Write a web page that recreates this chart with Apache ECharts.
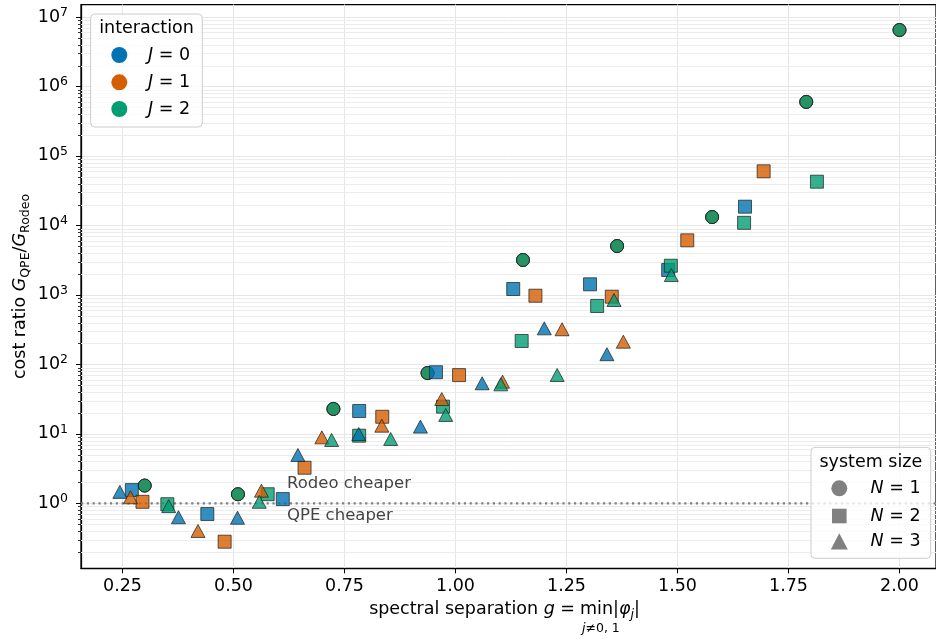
<!DOCTYPE html>
<html>
<head>
<meta charset="utf-8">
<script src="https://cdn.jsdelivr.net/npm/echarts@6/dist/echarts.min.js"></script>
<style>
  html, body { margin: 0; padding: 0; background: #ffffff; }
  #chart { width: 936px; height: 639px; }
</style>
</head>
<body>
<div id="chart"></div>
<script>
// ---- axis ticks ----
const xTickValues = [0.25, 0.5, 0.75, 1.0, 1.25, 1.5, 1.75, 2.0];
const yTickExponents = [0, 1, 2, 3, 4, 5, 6, 7];
const xRange = [0.1565, 2.0822];
const yRangeLog = [-0.9357, 7.180];

// ---- N = 1 (single site): identical for every interaction J ----
const sepN1   = [0.30, 0.51, 0.725, 0.937, 1.152, 1.364, 1.578, 1.79, 2.0];
const ratioN1 = [1.8, 1.35, 22.8, 75, 3180, 5050, 13200, 600000, 6.5e6];

// ---- N = 2 ----
const sepN2J0   = [0.271, 0.441, 0.611, 0.783, 0.956, 1.130, 1.303, 1.479, 1.652];
const ratioN2J0 = [1.55, 0.70, 1.15, 21.3, 77, 1215, 1420, 2280, 18600];
const sepN2J1   = [0.295, 0.480, 0.660, 0.835, 1.008, 1.180, 1.352, 1.522, 1.694];
const ratioN2J1 = [1.05, 0.28, 3.25, 17.6, 70, 973, 942, 6100, 60100];
const sepN2J2   = [0.351, 0.577, 0.783, 0.972, 1.149, 1.319, 1.485, 1.650, 1.814];
const ratioN2J2 = [0.97, 1.35, 9.4, 24.6, 217, 692, 2630, 10900, 42600];

// ---- N = 3 ----
const sepN3J0   = [0.244, 0.376, 0.509, 0.645, 0.782, 0.921, 1.060, 1.200, 1.341];
const ratioN3J0 = [1.46, 0.63, 0.62, 4.96, 9.95, 12.7, 53.4, 330, 140];
const sepN3J1   = [0.268, 0.420, 0.563, 0.699, 0.834, 0.969, 1.106, 1.240, 1.378];
const ratioN3J1 = [1.22, 0.40, 1.52, 8.9, 13.1, 31.7, 56.3, 320, 212];
const sepN3J2   = [0.354, 0.558, 0.721, 0.854, 0.978, 1.102, 1.229, 1.357, 1.486];
const ratioN3J2 = [0.91, 1.05, 8.15, 8.43, 18.7, 51.6, 70.3, 844, 1930];

const jLabels = ['0', '1', '2'];
const nLabels = ['1', '2', '3'];

// ---- styling ----
const FONT = 'DejaVu Sans';
const jColors = ['#0173b2', '#d55e00', '#029e73'];
const nSymbols = ['circle', 'rect', 'triangle'];
const nSizes = [13, 13, [14, 13]];

const groups = [
  [[sepN1, ratioN1], [sepN1, ratioN1], [sepN1, ratioN1]],
  [[sepN2J0, ratioN2J0], [sepN2J1, ratioN2J1], [sepN2J2, ratioN2J2]],
  [[sepN3J0, ratioN3J0], [sepN3J1, ratioN3J1], [sepN3J2, ratioN3J2]]
];

const series = [];

// minor log gridlines and minor ticks (2..9 x 10^k)
const minorLog = [];
for (let e = -1; e <= 7; e++) {
  for (let k = 2; k <= 9; k++) {
    const v = Math.log10(k) + e;
    if (v > yRangeLog[0] && v < yRangeLog[1]) minorLog.push([xRange[0], v]);
  }
}
series.push({
  type: 'custom',
  silent: true,
  clip: false,
  z: 1,
  data: minorLog,
  renderItem(params, api) {
    const cs = params.coordSys;
    const y = Math.round(api.coord([api.value(0), api.value(1)])[1]) + 0.5;
    return {
      type: 'group',
      children: [
        { type: 'line', shape: { x1: cs.x, y1: y, x2: cs.x + cs.width, y2: y },
          style: { stroke: '#ececec', lineWidth: 1 } },
        { type: 'line', shape: { x1: cs.x - 3, y1: y, x2: cs.x, y2: y },
          style: { stroke: '#000000', lineWidth: 0.8 } }
      ]
    };
  }
});

// break-even line at ratio = 1
series.push({
  type: 'line',
  silent: true,
  symbol: 'none',
  z: 1,
  data: [[xRange[0], Math.log10(1)], [xRange[1], Math.log10(1)]],
  lineStyle: { color: '#7f7f7f', width: 2.2, type: [2.2, 3.6] }
});

groups.forEach((byJ, n) => {
  byJ.forEach(([sep, ratio], j) => {
    series.push({
      type: 'scatter',
      name: 'N=' + nLabels[n] + ' J=' + jLabels[j],
      symbol: nSymbols[n],
      symbolSize: nSizes[n],
      z: 3,
      data: sep.map((x, i) => [x, Math.log10(ratio[i])]),
      itemStyle: {
        color: jColors[j],
        opacity: 0.8,
        borderColor: '#1e1e1e',
        borderWidth: 0.9
      },
      emphasis: { disabled: true }
    });
  });
});

const chart = echarts.init(document.getElementById('chart'), null, { renderer: 'canvas' });

const textBase = { fontFamily: FONT, fill: '#000000' };

// legend boxes
const legendJ = { x: 90.7, y: 14, w: 111.6, h: 113 };
const legendN = { x: 811, y: 447.3, w: 119.7, h: 111 };

const graphics = [];
graphics.push({
  type: 'rect', z: 100,
  shape: { x: legendJ.x, y: legendJ.y, width: legendJ.w, height: legendJ.h, r: 4 },
  style: { fill: 'rgba(255,255,255,0.8)', stroke: '#cccccc', lineWidth: 1 }
});
graphics.push({
  type: 'text', z: 101, x: legendJ.x + legendJ.w / 2, y: 28.5,
  style: Object.assign({}, textBase, { text: 'interaction', fontSize: 17.5, align: 'center', verticalAlign: 'middle' })
});
const rowJ = [55, 82.3, 109];
jLabels.forEach((lab, j) => {
  graphics.push({
    type: 'circle', z: 101,
    shape: { cx: 119.3, cy: rowJ[j], r: 8 },
    style: { fill: jColors[j] }
  });
  graphics.push({
    type: 'text', z: 101, x: 148, y: rowJ[j],
    style: Object.assign({}, textBase, {
      text: '{i|J} = ' + lab, fontSize: 17.5, align: 'left', verticalAlign: 'middle',
      rich: { i: { fontStyle: 'italic', fontSize: 17.5, fontFamily: FONT } }
    })
  });
});

graphics.push({
  type: 'rect', z: 100,
  shape: { x: legendN.x, y: legendN.y, width: legendN.w, height: legendN.h, r: 4 },
  style: { fill: 'rgba(255,255,255,0.8)', stroke: '#cccccc', lineWidth: 1 }
});
graphics.push({
  type: 'text', z: 101, x: legendN.x + legendN.w / 2, y: 462.7,
  style: Object.assign({}, textBase, { text: 'system size', fontSize: 17.5, align: 'center', verticalAlign: 'middle' })
});
const rowN = [488.3, 516, 541.5];
const gray = '#808080';
graphics.push({ type: 'circle', z: 101, shape: { cx: 839.3, cy: rowN[0], r: 8 }, style: { fill: gray } });
graphics.push({ type: 'rect', z: 101, shape: { x: 839.3 - 7.3, y: rowN[1] - 7.3, width: 14.6, height: 14.6 }, style: { fill: gray } });
graphics.push({ type: 'polygon', z: 101, shape: { points: [[839.3, rowN[2] - 8.3], [839.3 - 8.5, rowN[2] + 8], [839.3 + 8.5, rowN[2] + 8]] }, style: { fill: gray } });
nLabels.forEach((lab, n) => {
  graphics.push({
    type: 'text', z: 101, x: 870.5, y: rowN[n],
    style: Object.assign({}, textBase, {
      text: '{i|N} = ' + lab, fontSize: 17.5, align: 'left', verticalAlign: 'middle',
      rich: { i: { fontStyle: 'italic', fontSize: 17.5, fontFamily: FONT } }
    })
  });
});

// region annotations around the break-even line
graphics.push({
  type: 'text', z: 50, x: 287, y: 483.5,
  style: { text: 'Rodeo cheaper', fontFamily: FONT, fontSize: 16.5, fill: '#444444', align: 'left', verticalAlign: 'middle' }
});
graphics.push({
  type: 'text', z: 50, x: 287, y: 515.5,
  style: { text: 'QPE cheaper', fontFamily: FONT, fontSize: 16.5, fill: '#444444', align: 'left', verticalAlign: 'middle' }
});

// y axis title
graphics.push({
  type: 'text', z: 50, x: 20, y: 286.5, rotation: Math.PI / 2,
  style: Object.assign({}, textBase, {
    text: 'cost ratio {i|G}{s|QPE}/{i|G}{s|Rodeo}',
    fontSize: 17.5, lineHeight: 24, align: 'center', verticalAlign: 'middle',
    rich: {
      i: { fontStyle: 'italic', fontSize: 17.5, lineHeight: 24, fontFamily: FONT },
      s: { fontSize: 12.5, lineHeight: 14, verticalAlign: 'bottom', fontFamily: FONT }
    }
  })
});

// x axis title: "spectral separation g = min_{j≠0,1} |φ_j|"
graphics.push({
  type: 'text', z: 50, x: 575, y: 609.3,
  style: Object.assign({}, textBase, {
    text: 'spectral separation {i|g} =',
    fontSize: 17.5, lineHeight: 24, align: 'right', verticalAlign: 'middle',
    rich: { i: { fontStyle: 'italic', fontSize: 17.5, lineHeight: 24, fontFamily: FONT } }
  })
});
graphics.push({
  type: 'text', z: 50, x: 580, y: 609.3,
  style: Object.assign({}, textBase, {
    text: 'min|{i|φ}{s|j}|',
    fontSize: 17.5, lineHeight: 24, align: 'left', verticalAlign: 'middle',
    rich: {
      i: { fontStyle: 'italic', fontSize: 17.5, lineHeight: 24, fontFamily: FONT },
      s: { fontStyle: 'italic', fontSize: 12.5, lineHeight: 14, verticalAlign: 'bottom', fontFamily: FONT }
    }
  })
});
graphics.push({
  type: 'text', z: 50, x: 582, y: 628.3,
  style: Object.assign({}, textBase, {
    text: '{i|j}≠0, 1', fontSize: 12.5, align: 'left', verticalAlign: 'middle',
    rich: { i: { fontStyle: 'italic', fontSize: 12.5, fontFamily: FONT } }
  })
});

const option = {
  animation: false,
  backgroundColor: '#ffffff',
  textStyle: { fontFamily: FONT },
  grid: {
    left: 81, right: 0, top: 4.5, bottom: 70.7,
    containLabel: false,
    show: true, borderColor: '#000000', borderWidth: 1.25, backgroundColor: 'transparent'
  },
  xAxis: {
    type: 'value',
    min: xRange[0], max: xRange[1],
    axisLine: { show: true, onZero: false, lineStyle: { color: '#000000', width: 1.25 } },
    axisTick: { show: true, inside: false, length: 5, lineStyle: { color: '#000000', width: 1 }, customValues: xTickValues },
    axisLabel: {
      show: true, margin: 9, color: '#000000', fontSize: 17.5, fontFamily: FONT,
      customValues: xTickValues,
      formatter: v => v.toFixed(2)
    },
    splitLine: { show: true, lineStyle: { color: '#e6e6e6', width: 1 } },
    minorTick: { show: false }, minorSplitLine: { show: false }
  },
  yAxis: {
    type: 'value',
    min: yRangeLog[0], max: yRangeLog[1],
    axisLine: { show: true, onZero: false, lineStyle: { color: '#000000', width: 1.25 } },
    axisTick: { show: true, inside: false, length: 5, lineStyle: { color: '#000000', width: 1 }, customValues: yTickExponents },
    axisLabel: {
      show: true, margin: 13, color: '#000000', fontFamily: FONT,
      customValues: yTickExponents,
      formatter: v => '{b|10}{s|' + Math.round(v) + '}',
      rich: {
        b: { fontSize: 17.5, lineHeight: 22, fontFamily: FONT, color: '#000000' },
        s: { fontSize: 12.5, lineHeight: 14, verticalAlign: 'top', fontFamily: FONT, color: '#000000' }
      }
    },
    splitLine: { show: true, lineStyle: { color: '#e6e6e6', width: 1 } }
  },
  series: series,
  graphic: { elements: graphics }
};

chart.setOption(option);
</script>
</body>
</html>
